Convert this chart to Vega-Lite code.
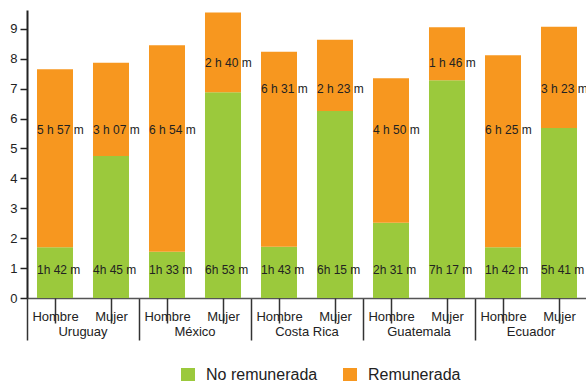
{
  "$schema": "https://vega.github.io/schema/vega-lite/v6.json",
  "width": 560,
  "height": 288,
  "autosize": {"type": "none"},
  "padding": {"left": 27, "top": 10, "right": 0, "bottom": 83},
  "config": {"font": "Liberation Sans", "view": {"stroke": null}, "axis": {"grid": false}},
  "data": {"values": [
    {"pais": "Uruguay", "sexo": "Hombre", "clave": "Uruguay|Hombre", "tipo": "No remunerada", "horas": 1.7, "etiqueta": "1h 42 m", "ly": 0.95},
    {"pais": "Uruguay", "sexo": "Hombre", "clave": "Uruguay|Hombre", "tipo": "Remunerada", "horas": 5.95, "etiqueta": "5 h 57 m", "ly": 5.62},
    {"pais": "Uruguay", "sexo": "Mujer", "clave": "Uruguay|Mujer", "tipo": "No remunerada", "horas": 4.75, "etiqueta": "4h 45 m", "ly": 0.95},
    {"pais": "Uruguay", "sexo": "Mujer", "clave": "Uruguay|Mujer", "tipo": "Remunerada", "horas": 3.117, "etiqueta": "3 h 07 m", "ly": 5.62},
    {"pais": "México", "sexo": "Hombre", "clave": "México|Hombre", "tipo": "No remunerada", "horas": 1.55, "etiqueta": "1h 33 m", "ly": 0.95},
    {"pais": "México", "sexo": "Hombre", "clave": "México|Hombre", "tipo": "Remunerada", "horas": 6.9, "etiqueta": "6 h 54 m", "ly": 5.62},
    {"pais": "México", "sexo": "Mujer", "clave": "México|Mujer", "tipo": "No remunerada", "horas": 6.883, "etiqueta": "6h 53 m", "ly": 0.95},
    {"pais": "México", "sexo": "Mujer", "clave": "México|Mujer", "tipo": "Remunerada", "horas": 2.667, "etiqueta": "2 h 40 m", "ly": 7.86},
    {"pais": "Costa Rica", "sexo": "Hombre", "clave": "Costa Rica|Hombre", "tipo": "No remunerada", "horas": 1.717, "etiqueta": "1h 43 m", "ly": 0.95},
    {"pais": "Costa Rica", "sexo": "Hombre", "clave": "Costa Rica|Hombre", "tipo": "Remunerada", "horas": 6.517, "etiqueta": "6 h 31 m", "ly": 6.99},
    {"pais": "Costa Rica", "sexo": "Mujer", "clave": "Costa Rica|Mujer", "tipo": "No remunerada", "horas": 6.25, "etiqueta": "6h 15 m", "ly": 0.95},
    {"pais": "Costa Rica", "sexo": "Mujer", "clave": "Costa Rica|Mujer", "tipo": "Remunerada", "horas": 2.383, "etiqueta": "2 h 23 m", "ly": 6.99},
    {"pais": "Guatemala", "sexo": "Hombre", "clave": "Guatemala|Hombre", "tipo": "No remunerada", "horas": 2.517, "etiqueta": "2h 31 m", "ly": 0.95},
    {"pais": "Guatemala", "sexo": "Hombre", "clave": "Guatemala|Hombre", "tipo": "Remunerada", "horas": 4.833, "etiqueta": "4 h 50 m", "ly": 5.62},
    {"pais": "Guatemala", "sexo": "Mujer", "clave": "Guatemala|Mujer", "tipo": "No remunerada", "horas": 7.283, "etiqueta": "7h 17 m", "ly": 0.95},
    {"pais": "Guatemala", "sexo": "Mujer", "clave": "Guatemala|Mujer", "tipo": "Remunerada", "horas": 1.767, "etiqueta": "1 h 46 m", "ly": 7.86},
    {"pais": "Ecuador", "sexo": "Hombre", "clave": "Ecuador|Hombre", "tipo": "No remunerada", "horas": 1.7, "etiqueta": "1h 42 m", "ly": 0.95},
    {"pais": "Ecuador", "sexo": "Hombre", "clave": "Ecuador|Hombre", "tipo": "Remunerada", "horas": 6.417, "etiqueta": "6 h 25 m", "ly": 5.62},
    {"pais": "Ecuador", "sexo": "Mujer", "clave": "Ecuador|Mujer", "tipo": "No remunerada", "horas": 5.683, "etiqueta": "5h 41 m", "ly": 0.95},
    {"pais": "Ecuador", "sexo": "Mujer", "clave": "Ecuador|Mujer", "tipo": "Remunerada", "horas": 3.383, "etiqueta": "3 h 23 m", "ly": 6.99}
  ]},
  "layer": [
    {
      "mark": {"type": "bar"},
      "encoding": {
        "x": {"field": "pais", "type": "nominal", "sort": null,
          "scale": {"paddingInner": 0, "paddingOuter": 0},
          "axis": {"title": null, "orient": "bottom", "labelAngle": 0, "domain": true, "domainColor": "#555", "domainWidth": 1.5,
            "bandPosition": 0, "ticks": true, "tickSize": 42, "tickWidth": 1.5, "tickColor": "#333",
            "labelPadding": -14.2, "labelFontSize": 13, "labelColor": "#222", "labelBaseline": "top"}},
        "xOffset": {"field": "sexo", "type": "nominal", "scale": {"paddingInner": 0.357, "paddingOuter": 0.1786}},
        "y": {"field": "horas", "type": "quantitative", "stack": "zero",
          "scale": {"domain": [0, 9.63], "nice": false},
          "axis": {"title": null, "values": [0, 1, 2, 3, 4, 5, 6, 7, 8, 9], "format": "d", "labelFontSize": 13, "labelColor": "#222",
            "tickSize": 7, "tickWidth": 1.5, "tickColor": "#222", "domainColor": "#222", "domainWidth": 2, "labelPadding": 3}},
        "order": {"field": "tipo", "type": "nominal", "sort": "ascending"},
        "color": {"field": "tipo", "type": "nominal",
          "scale": {"domain": ["No remunerada", "Remunerada"], "range": ["#9bc93c", "#f7971f"]},
          "legend": {"title": null, "orient": "none", "legendX": 153, "legendY": 357, "direction": "horizontal",
            "symbolType": "square", "symbolSize": 196, "symbolStrokeWidth": 0, "labelFontSize": 16, "labelColor": "#222",
            "columnPadding": 24, "labelOffset": 10, "padding": 0}}
      }
    },
    {
      "mark": {"type": "text", "align": "left", "baseline": "middle", "fontSize": 12, "color": "#222", "dx": -18},
      "encoding": {
        "x": {"field": "clave", "type": "nominal", "sort": null,
          "scale": {"paddingInner": 0, "paddingOuter": 0},
          "axis": {"title": null, "orient": "bottom", "labelAngle": 0, "domain": false,
            "bandPosition": 0, "ticks": true, "tickSize": 25, "tickWidth": 1.5, "tickColor": "#333",
            "labelPadding": -12.7, "labelFontSize": 13, "labelColor": "#222", "labelBaseline": "top",
            "labelExpr": "split(datum.value, '|')[1]"}},
        "y": {"field": "ly", "type": "quantitative",
          "scale": {"domain": [0, 9.63], "nice": false},
          "axis": {"title": null, "values": [0, 1, 2, 3, 4, 5, 6, 7, 8, 9], "format": "d", "labelFontSize": 13, "labelColor": "#222",
            "tickSize": 7, "tickWidth": 1.5, "tickColor": "#222", "domainColor": "#222", "domainWidth": 2, "labelPadding": 3}},
        "text": {"field": "etiqueta", "type": "nominal"}
      }
    }
  ],
  "resolve": {"scale": {"x": "independent"}}
}
